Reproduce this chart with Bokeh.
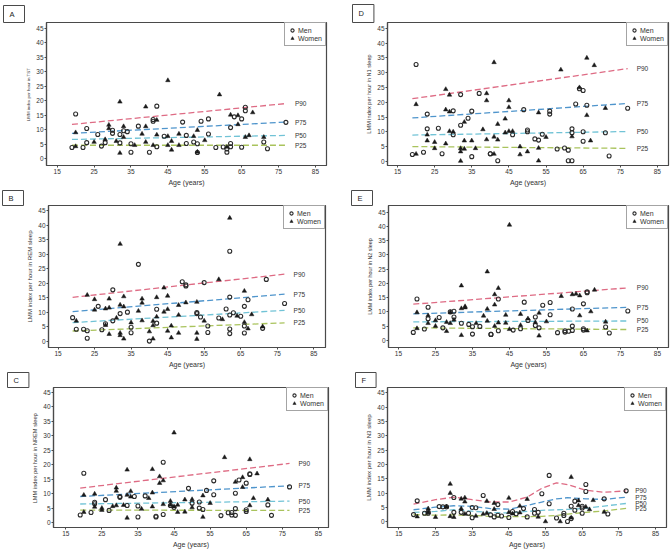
from bokeh.plotting import figure
from bokeh.layouts import column, row
from bokeh.models import Legend, LegendItem, Title
from bokeh.embed import file_html
from bokeh.resources import INLINE
from bokeh.core.properties import value

FONT = "Liberation Sans"
TEXT = "#333333"
FRAME = "#4a4a4a"

AGE_TICKS = [15, 25, 35, 45, 55, 65, 75, 85]
LMM_TICKS = [0, 5, 10, 15, 20, 25, 30, 35, 40, 45]
PCT_NAMES = ["P90", "P75", "P50", "P25"]
PCT_COLORS = ["#de6b84", "#4f95cc", "#71c3d6", "#a9c35c"]
X_LABEL = "Age (years)"
LEGEND_LABELS = ["Men", "Women"]

# ---------------- Panel A : TST ----------------
A_MEN = [(19, 3.8), (20, 15.4), (22, 3.8), (23, 10.4), (23, 5.5), (26, 8.3), (27, 4.3), (28, 5.5),
         (30, 9.8), (30, 8.7), (32, 8.3), (32, 5.4), (33, 9.6), (34, 9.3), (35, 2.2), (35, 5.1),
         (37, 11.2), (40, 2.2), (41, 12.9), (41, 13.5), (42, 18.1), (42, 4.1), (44, 7.7), (49, 12.6),
         (50, 8.0), (50, 5.2), (52, 5.7), (53, 5.1), (53, 2.1), (54, 12.9), (56, 13.7), (56, 8.5),
         (58, 3.8), (60, 4.0), (61, 3.3), (61, 2.2), (62, 10.7), (63, 14.4), (62, 5.2), (62, 4.1),
         (65, 13.7), (65, 3.9), (66, 17.7), (66, 16.5), (71, 5.7), (72, 3.4), (77, 12.5)]
A_WOMEN = [(20, 9.0), (20, 4.2), (25, 5.7), (28, 6.6), (29, 11.6), (29, 10.4), (31, 6.0), (32, 19.6),
           (32, 1.9), (33, 11.1), (33, 7.4), (36, 4.6), (38, 8.5), (39, 17.9), (39, 11.1), (39, 5.7),
           (41, 4.6), (42, 8.2), (42, 13.3), (45, 27.0), (45, 7.7), (45, 4.6), (46, 6.0), (46, 3.0),
           (48, 8.5), (48, 4.6), (52, 7.7), (53, 9.8), (53, 2.3), (55, 6.3), (59, 22.1), (61, 4.0),
           (62, 15.1), (64, 14.9), (64, 11.8), (66, 7.4), (67, 8.0), (68, 15.9), (71, 7.4)]
A_LINE_AGE = [19, 77]
A_P90 = [11.8, 19.0]
A_P75 = [8.7, 12.6]
A_P50 = [6.6, 8.0]
A_P25 = [4.6, 4.6]

# ---------------- Panel B : REM ----------------
B_MEN = [(19, 8.1), (20, 4.1), (22, 4.1), (23, 1.0), (23, 3.6), (26, 12.0), (27, 3.9), (28, 6.0),
         (30, 17.7), (30, 7.0), (32, 9.5), (34, 10.0), (35, 2.9), (35, 4.8), (37, 26.5), (40, 0.0),
         (42, 11.0), (42, 6.2), (49, 20.5), (50, 19.4), (50, 19.0), (53, 9.9), (53, 9.5), (54, 8.3),
         (55, 20.2), (56, 5.2), (56, 3.0), (59, 8.0), (61, 11.1), (62, 2.6), (62, 4.2), (62, 31.0),
         (62, 15.2), (62, 9.0), (63, 9.8), (65, 8.6), (66, 12.0), (66, 5.2), (66, 2.8), (67, 14.3),
         (71, 4.4), (72, 21.3), (77, 13.0)]
B_WOMEN = [(20, 7.0), (23, 15.9), (25, 14.4), (25, 10.8), (28, 11.2), (28, 5.5), (29, 14.6), (29, 11.5),
           (29, 2.4), (31, 8.0), (32, 33.5), (32, 12.5), (32, 2.8), (32, 2.0), (33, 15.4), (33, 11.9),
           (33, 0.8), (35, 6.4), (37, 10.4), (38, 14.6), (38, 13.2), (38, 7.1), (40, 3.3), (41, 6.9),
           (41, 5.4), (41, 0.8), (42, 15.1), (42, 8.4), (44, 18.4), (44, 10.1), (45, 15.6), (45, 11.0),
           (45, 3.5), (46, 5.3), (46, 1.2), (48, 12.4), (48, 9.0), (48, 2.8), (50, 13.3), (53, 13.5),
           (53, 2.8), (53, 0.7), (55, 7.0), (59, 21.3), (60, 7.5), (62, 42.5), (64, 8.7), (66, 17.3),
           (66, 6.5), (67, 4.3), (68, 9.2), (71, 5.0)]
B_LINE_AGE = [19, 77]
B_P90 = [15.1, 23.1]
B_P75 = [10.2, 16.2]
B_P50 = [6.4, 10.6]
B_P25 = [3.5, 6.3]

# ---------------- Panel C : NREM ----------------
C_MEN = [(19, 2.6), (20, 17.0), (22, 3.5), (23, 7.0), (23, 6.5), (26, 7.9), (27, 4.2), (30, 9.0),
         (30, 8.7), (32, 5.9), (34, 9.0), (35, 5.7), (35, 1.9), (37, 9.2), (40, 2.2), (40, 1.9),
         (42, 20.8), (42, 2.8), (44, 5.9), (45, 5.2), (49, 11.8), (50, 6.7), (52, 7.1), (52, 5.0),
         (53, 4.5), (54, 11.1), (56, 14.4), (56, 9.6), (58, 2.4), (60, 3.4), (61, 2.6), (61, 3.5),
         (62, 10.1), (62, 4.8), (62, 2.5), (63, 14.7), (65, 13.6), (65, 4.4), (65, 3.8), (66, 16.8),
         (66, 16.6), (71, 6.1), (72, 2.5), (77, 12.3)]
C_WOMEN = [(20, 9.5), (20, 3.6), (23, 9.9), (23, 5.4), (25, 5.0), (25, 4.3), (28, 5.6), (29, 12.0),
           (29, 10.9), (29, 5.9), (31, 6.0), (32, 18.2), (32, 9.5), (32, 1.6), (33, 10.8), (33, 8.9),
           (36, 4.7), (38, 8.4), (39, 18.4), (39, 10.3), (39, 5.5), (41, 15.9), (41, 13.6), (42, 14.5),
           (42, 6.3), (44, 7.4), (44, 6.1), (45, 31.0), (45, 5.5), (46, 6.1), (46, 3.6), (48, 7.9),
           (48, 3.7), (50, 8.0), (50, 5.2), (53, 9.3), (53, 1.9), (55, 6.7), (59, 22.5), (62, 14.0),
           (64, 15.6), (64, 12.2), (66, 21.8), (66, 5.9), (67, 8.4), (68, 16.9), (71, 7.9)]
C_LINE_AGE = [19, 77]
C_P90 = [11.9, 20.4]
C_P75 = [9.0, 12.7]
C_P50 = [6.4, 7.4]
C_P25 = [4.3, 4.2]

# ---------------- Panel D : N1 ----------------
D_MEN = [(19, 2.3), (20, 32.8), (22, 3.1), (23, 16.0), (23, 11.0), (26, 11.2), (27, 2.6), (30, 17.1),
         (30, 9.0), (32, 12.2), (32, 22.6), (34, 14.6), (35, 17.0), (35, 1.6), (37, 23.0), (40, 2.6),
         (40, 2.6), (42, 0.2), (46, 9.0), (49, 17.5), (50, 10.6), (50, 10.0), (52, 7.6), (53, 7.2),
         (54, 9.2), (56, 16.0), (56, 17.0), (58, 4.2), (60, 4.5), (61, 3.8), (61, 0.2), (62, 0.2),
         (62, 11.0), (62, 9.7), (63, 19.4), (64, 24.6), (65, 24.0), (65, 10.0), (65, 6.8), (66, 19.0),
         (71, 9.7), (72, 1.8), (77, 18.0)]
D_WOMEN = [(20, 19.3), (20, 2.5), (23, 7.0), (23, 9.0), (25, 6.5), (25, 4.4), (28, 24.4), (28, 17.5),
           (28, 6.0), (29, 22.5), (29, 16.8), (29, 10.2), (30, 10.0), (32, 3.3), (32, 4.4), (32, 0.1),
           (33, 7.0), (33, 4.2), (33, 13.3), (35, 7.0), (36, 4.4), (38, 10.8), (39, 23.0), (39, 20.6),
           (39, 7.4), (41, 33.5), (41, 8.3), (41, 2.5), (42, 12.6), (42, 7.3), (44, 14.4), (44, 9.7),
           (45, 20.6), (45, 18.3), (45, 10.2), (46, 10.2), (48, 5.0), (48, 2.3), (50, 3.3), (53, 16.5),
           (53, 4.5), (53, 0.2), (55, 8.2), (59, 31.0), (62, 8.4), (64, 25.0), (66, 35.0), (66, 15.6),
           (67, 7.0), (68, 32.5), (71, 18.0)]
D_LINE_AGE = [19, 77]
D_P90 = [21.2, 31.4]
D_P75 = [14.7, 19.6]
D_P50 = [8.9, 10.1]
D_P25 = [5.0, 4.4]

# ---------------- Panel E : N2 ----------------
E_MEN = [(19, 2.8), (20, 14.5), (22, 4.0), (23, 11.6), (23, 7.6), (26, 8.0), (27, 4.4), (29, 10.0),
         (30, 10.2), (30, 8.2), (32, 6.0), (34, 5.6), (35, 4.8), (35, 2.2), (37, 4.9), (40, 2.1),
         (40, 2.1), (42, 14.5), (42, 3.4), (46, 3.6), (48, 4.1), (49, 13.4), (50, 7.0), (52, 8.2),
         (52, 5.2), (53, 4.4), (54, 12.3), (56, 13.3), (56, 9.0), (58, 2.7), (60, 2.9), (60, 3.4),
         (61, 3.2), (62, 11.0), (62, 5.0), (62, 3.5), (65, 12.8), (65, 3.6), (65, 4.1), (66, 17.0),
         (66, 16.7), (71, 4.7), (72, 2.6), (77, 10.3)]
E_WOMEN = [(20, 9.8), (20, 4.2), (23, 8.7), (23, 6.0), (25, 7.0), (25, 5.0), (28, 6.4), (28, 3.2),
           (29, 9.8), (29, 6.0), (30, 7.2), (32, 19.2), (32, 11.2), (32, 1.8), (33, 11.9), (33, 11.5),
           (36, 6.0), (38, 8.6), (39, 24.1), (39, 11.0), (39, 6.8), (41, 16.1), (41, 12.5), (41, 5.0),
           (42, 18.3), (42, 6.2), (44, 8.9), (44, 6.1), (45, 40.5), (45, 3.9), (48, 9.2), (48, 5.3),
           (50, 7.6), (52, 6.3), (53, 9.6), (53, 1.6), (55, 6.6), (59, 15.5), (62, 16.1), (63, 16.3),
           (64, 15.7), (64, 8.7), (66, 3.4), (67, 10.1), (68, 17.7), (71, 6.5)]
E_LINE_AGE = [19, 77]
E_P90 = [12.7, 18.4]
E_P75 = [9.3, 11.6]
E_P50 = [6.5, 6.8]
E_P25 = [4.4, 3.8]

# ---------------- Panel F : N3 ----------------
F_MEN = [(19, 2.5), (20, 7.3), (22, 3.0), (23, 3.4), (23, 3.0), (26, 5.3), (27, 5.2), (28, 5.2),
         (30, 3.3), (30, 8.5), (32, 3.3), (34, 3.0), (35, 5.0), (35, 1.4), (36, 4.9), (38, 9.2),
         (40, 2.4), (41, 1.7), (42, 2.3), (42, 6.0), (43, 2.0), (45, 1.5), (46, 3.6), (47, 2.8),
         (49, 4.6), (50, 1.7), (52, 4.3), (52, 3.0), (53, 3.3), (54, 9.8), (56, 16.2), (56, 6.3),
         (58, 1.3), (60, 2.2), (60, 3.0), (61, 0.1), (62, 5.4), (62, 1.1), (63, 7.2), (63, 4.0),
         (65, 4.8), (65, 3.0), (65, 5.4), (66, 13.0), (66, 10.6), (71, 8.0), (72, 2.7), (77, 10.8)]
F_WOMEN = [(20, 1.8), (23, 3.3), (23, 4.6), (25, 1.6), (28, 5.3), (29, 13.2), (29, 10.0), (29, 1.9),
           (30, 1.6), (32, 8.0), (32, 4.6), (33, 8.4), (33, 7.0), (33, 2.7), (36, 2.0), (38, 2.7),
           (39, 7.2), (39, 3.0), (41, 4.4), (41, 6.5), (45, 8.3), (45, 3.3), (46, 2.8), (48, 5.5),
           (48, 3.2), (50, 7.9), (53, 1.7), (55, 0.1), (59, 0.1), (62, 15.6), (62, 1.4), (64, 7.4),
           (64, 5.7), (66, 5.2), (67, 4.3), (68, 7.5), (71, 3.4)]
F_LINE_AGE = [19, 25, 30, 35, 40, 45, 50, 54, 58, 61, 66, 71, 77]
F_P90 = [6.2, 7.7, 8.6, 7.7, 6.9, 6.9, 8.6, 11.7, 13.6, 13.0, 11.0, 10.3, 10.8]
F_P75 = [4.2, 5.1, 5.6, 5.4, 4.6, 4.4, 5.7, 6.9, 8.0, 8.4, 8.0, 7.8, 8.6]
F_P50 = [3.3, 3.6, 4.2, 3.7, 3.2, 3.1, 3.6, 4.0, 4.2, 4.3, 4.7, 5.5, 6.4]
F_P25 = [2.5, 2.3, 2.4, 2.2, 1.9, 1.8, 1.8, 1.9, 2.2, 2.7, 3.3, 3.8, 4.7]


def panel(letter, ylabel, ylab_size, men, women, line_age, pcts,
          w, h, left, right, top, bottom, xr, yr, box_x, box_pad):
    p = figure(width=w, height=h, x_range=xr, y_range=yr,
               output_backend="svg", toolbar_location=None,
               min_border_left=left, min_border_right=right,
               min_border_top=top, min_border_bottom=bottom)
    p.background_fill_color = "white"
    p.border_fill_color = "white"
    p.outline_line_color = FRAME
    p.outline_line_width = 1.2
    p.xgrid.visible = False
    p.ygrid.visible = False
    for ax in (p.xaxis[0], p.yaxis[0]):
        ax.axis_line_color = FRAME
        ax.axis_line_width = 1.2
        ax.major_tick_line_color = FRAME
        ax.major_tick_in = 0
        ax.major_tick_out = 2
        ax.minor_tick_line_color = None
        ax.major_label_text_font = FONT
        ax.major_label_text_font_size = "6.5px"
        ax.major_label_text_color = TEXT
        ax.major_label_standoff = 1
        ax.axis_label_text_font = FONT
        ax.axis_label_text_font_style = "normal"
        ax.axis_label_text_color = TEXT
        ax.axis_label_standoff = 2
    p.xaxis.ticker = AGE_TICKS
    p.yaxis.ticker = LMM_TICKS
    p.xaxis.axis_label = X_LABEL
    p.xaxis.axis_label_text_font_size = "7px"
    p.yaxis.axis_label = ylabel
    p.yaxis.axis_label_text_font_size = ylab_size

    for name, color, vals in zip(PCT_NAMES, PCT_COLORS, pcts):
        p.line(line_age, vals, line_color=color, line_width=1.3, line_dash="6 3")
        p.text(x=[line_age[-1]], y=[vals[-1]], text=[name], x_offset=9,
               text_font=value(FONT), text_font_size="6.5px", text_color=TEXT,
               text_baseline="middle", text_align="left")

    rm = p.scatter([a for a, v in men], [v for a, v in men], marker="circle", size=4,
                   fill_color=None, line_color="#2b2b2b", line_width=1.1)
    rw = p.scatter([a for a, v in women], [v for a, v in women], marker="triangle", size=4.5,
                   fill_color="#1a1a1a", line_color="#1a1a1a", line_width=0.5)

    legend = Legend(items=[LegendItem(label=LEGEND_LABELS[0], renderers=[rm]),
                           LegendItem(label=LEGEND_LABELS[1], renderers=[rw])],
                    location="top_right", margin=0, padding=3, spacing=0,
                    glyph_width=8, glyph_height=8, label_height=8, label_standoff=2,
                    label_text_font=FONT, label_text_font_size="7px", label_text_color=TEXT,
                    border_line_color=FRAME, border_line_width=1.2,
                    background_fill_color="white", background_fill_alpha=1)
    p.add_layout(legend)

    # panel letter in a small box, placed in the space above the frame
    p.add_layout(Title(text=letter, align="left", offset=box_x - left, standoff=0,
                       vertical_align="bottom",
                       text_font=FONT, text_font_size="7.5px", text_font_style="normal",
                       text_color="#222222",
                       border_line_color=FRAME, border_line_width=1,
                       background_fill_color="white",
                       padding=box_pad), "above")
    return p


pa = panel("A", "LMM index per hour in  TST", "4.4px", A_MEN, A_WOMEN, A_LINE_AGE,
           [A_P90, A_P75, A_P50, A_P25], 335, 188, 46, 9, 19, 20, (12.1, 88.0), (-2.4, 47.0),
           3, (6, 10, 4, 4))
pd_ = panel("D", "LMM index per hour in N1 sleep", "5.6px", D_MEN, D_WOMEN, D_LINE_AGE,
            [D_P90, D_P75, D_P50, D_P25], 335, 188, 52, 2, 22, 21, (12.3, 88.0), (-1.4, 47.0),
            17, (6, 10, 4, 5))
pb = panel("B", "LMM index per hour in REM sleep", "6.1px", B_MEN, B_WOMEN, B_LINE_AGE,
           [B_P90, B_P75, B_P50, B_P25], 335, 182, 48, 10, 15, 20, (12.4, 88.2), (-2.2, 46.8),
           2, (6, 10, 3, 3))
pe = panel("E", "LMM index per hour in N2 sleep", "5.4px", E_MEN, E_WOMEN, E_LINE_AGE,
           [E_P90, E_P75, E_P50, E_P25], 335, 182, 53, 2, 10, 20, (12.3, 88.0), (-2.5, 47.3),
           16, (6, 10, 3, 3))
pc = panel("C", "LMM index per hour in  NREM sleep", "5.7px", C_MEN, C_WOMEN, C_LINE_AGE,
           [C_P90, C_P75, C_P50, C_P25], 335, 180, 53, 7, 14, 23, (11.6, 87.8), (-1.7, 46.6),
           7, (6, 10, 3, 3))
pf = panel("F", "LMM index per hour in N3 sleep", "6.1px", F_MEN, F_WOMEN, F_LINE_AGE,
           [F_P90, F_P75, F_P50, F_P25], 335, 180, 52, 4, 12, 20, (11.9, 88.0), (-2.0, 46.9),
           20, (6, 10, 3, 3))

layout = column(row(pa, pd_), row(pb, pe), row(pc, pf))
open("out.html", "w").write(file_html(layout, INLINE))
